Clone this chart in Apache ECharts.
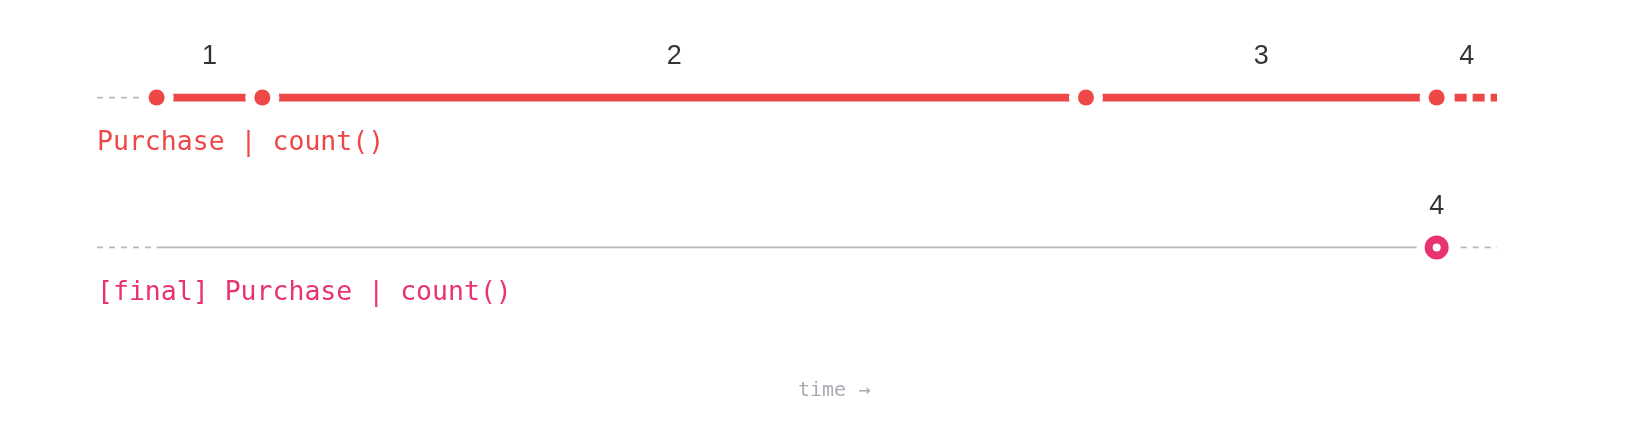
<!DOCTYPE html>
<html>
<head>
<meta charset="utf-8">
<script src="https://cdn.jsdelivr.net/npm/echarts@6/dist/echarts.min.js"></script>
<style>html,body{margin:0;padding:0;background:#fff}#c{width:1638px;height:440px}</style>
</head>
<body>
<div id="c"></div>
<script>
// ---- data ----
const windowStart = 0;
const windowEnd = 100;
const eventTimes = [4.26, 11.81, 70.64, 95.69];   // Purchase events
const segmentCounts = [1, 2, 3, 4];               // running count() after each event
const finalTime = 95.69;                          // [final] emission
const finalCount = 4;
const rowNames = ['Purchase | count()', '[final] Purchase | count()'];
const axisName = 'time \u2192';

// ---- styling ----
const RED = '#ee4747';
const PINK = '#e8336f';
const GREY = '#b8b8c0';
const MONO = '"DejaVu Sans Mono", "Liberation Mono", monospace';

const R1 = 0, R2 = 1;
const lastEvent = eventTimes[eventTimes.length - 1];

// midpoints of each segment (between event i and i+1, last one to window end)
const segLabelData = segmentCounts.map((c, i) => {
  const a = eventTimes[i];
  const b = i + 1 < eventTimes.length ? eventTimes[i + 1] : windowEnd;
  return { value: [(a + b) / 2, R1], count: c };
});

const chart = echarts.init(document.getElementById('c'), null, { renderer: 'canvas' });

const labelCommon = {
  show: true,
  position: 'inside',
  offset: [0, -41],
  align: 'center',
  verticalAlign: 'middle',
  color: '#000',
  fontFamily: '"Liberation Sans", Arial, sans-serif',
  fontSize: 27,
  formatter: p => String(p.data.count)
};

chart.setOption({
  animation: false,
  grid: { left: 97, width: 1400, top: 97.5, height: 150 },
  xAxis: { type: 'value', min: windowStart, max: windowEnd, show: false },
  yAxis: { type: 'value', min: R1, max: R2, inverse: true, show: false },
  series: [
    // row 1: before first event (grey dashed)
    { type: 'line', z: 2, symbol: 'none', silent: true,
      data: [[windowStart, R1], [eventTimes[0], R1]],
      lineStyle: { color: GREY, width: 2, type: [6, 6] } },
    // row 1: active segments (red solid)
    { type: 'line', z: 2, symbol: 'none', silent: true,
      data: eventTimes.map(t => [t, R1]),
      lineStyle: { color: RED, width: 8, type: 'solid', cap: 'butt' } },
    // row 1: open segment after last event (red dashed)
    { type: 'line', z: 2, symbol: 'none', silent: true,
      data: [[lastEvent, R1], [windowEnd, R1]],
      lineStyle: { color: RED, width: 8, type: [12, 6], cap: 'butt' } },
    // row 2: before first event (grey dashed)
    { type: 'line', z: 2, symbol: 'none', silent: true,
      data: [[windowStart, R2], [eventTimes[0], R2]],
      lineStyle: { color: GREY, width: 2, type: [6, 6] } },
    // row 2: waiting (grey solid)
    { type: 'line', z: 2, symbol: 'none', silent: true,
      data: [[eventTimes[0], R2], [finalTime, R2]],
      lineStyle: { color: GREY, width: 2, type: 'solid' } },
    // row 2: after final (grey dashed)
    { type: 'line', z: 2, symbol: 'none', silent: true,
      data: [[finalTime, R2], [windowEnd, R2]],
      lineStyle: { color: GREY, width: 2, type: [6, 6] } },
    // white halos
    { type: 'scatter', z: 3, silent: true, symbol: 'circle', symbolSize: 34,
      data: eventTimes.map(t => [t, R1]),
      itemStyle: { color: '#fff', opacity: 1 } },
    { type: 'scatter', z: 3, silent: true, symbol: 'circle', symbolSize: 40,
      data: [[finalTime, R2]],
      itemStyle: { color: '#fff', opacity: 1 } },
    // event dots
    { type: 'scatter', z: 4, silent: true, symbol: 'circle', symbolSize: 16,
      data: eventTimes.map(t => [t, R1]),
      itemStyle: { color: RED, opacity: 1 } },
    // final ring
    { type: 'scatter', z: 4, silent: true, symbol: 'circle', symbolSize: 16,
      data: [[finalTime, R2]],
      itemStyle: { color: '#fff', borderColor: PINK, borderWidth: 8, opacity: 1 } },
    // count labels
    { type: 'scatter', z: 5, silent: true, symbol: 'circle', symbolSize: 1,
      data: segLabelData,
      itemStyle: { color: 'rgba(0,0,0,0)' },
      label: labelCommon },
    { type: 'scatter', z: 5, silent: true, symbol: 'circle', symbolSize: 1,
      data: [{ value: [finalTime, R2], count: finalCount }],
      itemStyle: { color: 'rgba(0,0,0,0)' },
      label: labelCommon }
  ],
  graphic: [
    { type: 'text', x: 97, y: 143, silent: true,
      style: { text: rowNames[0], fill: RED, font: '26.5px ' + MONO, verticalAlign: 'middle', align: 'left' } },
    { type: 'text', x: 97, y: 293, silent: true,
      style: { text: rowNames[1], fill: PINK, font: '26.5px ' + MONO, verticalAlign: 'middle', align: 'left' } },
    { type: 'text', x: 798, y: 391, silent: true,
      style: { text: axisName, fill: '#aaaab2', font: '20px ' + MONO, verticalAlign: 'middle', align: 'left' } }
  ]
});
</script>
</body>
</html>
